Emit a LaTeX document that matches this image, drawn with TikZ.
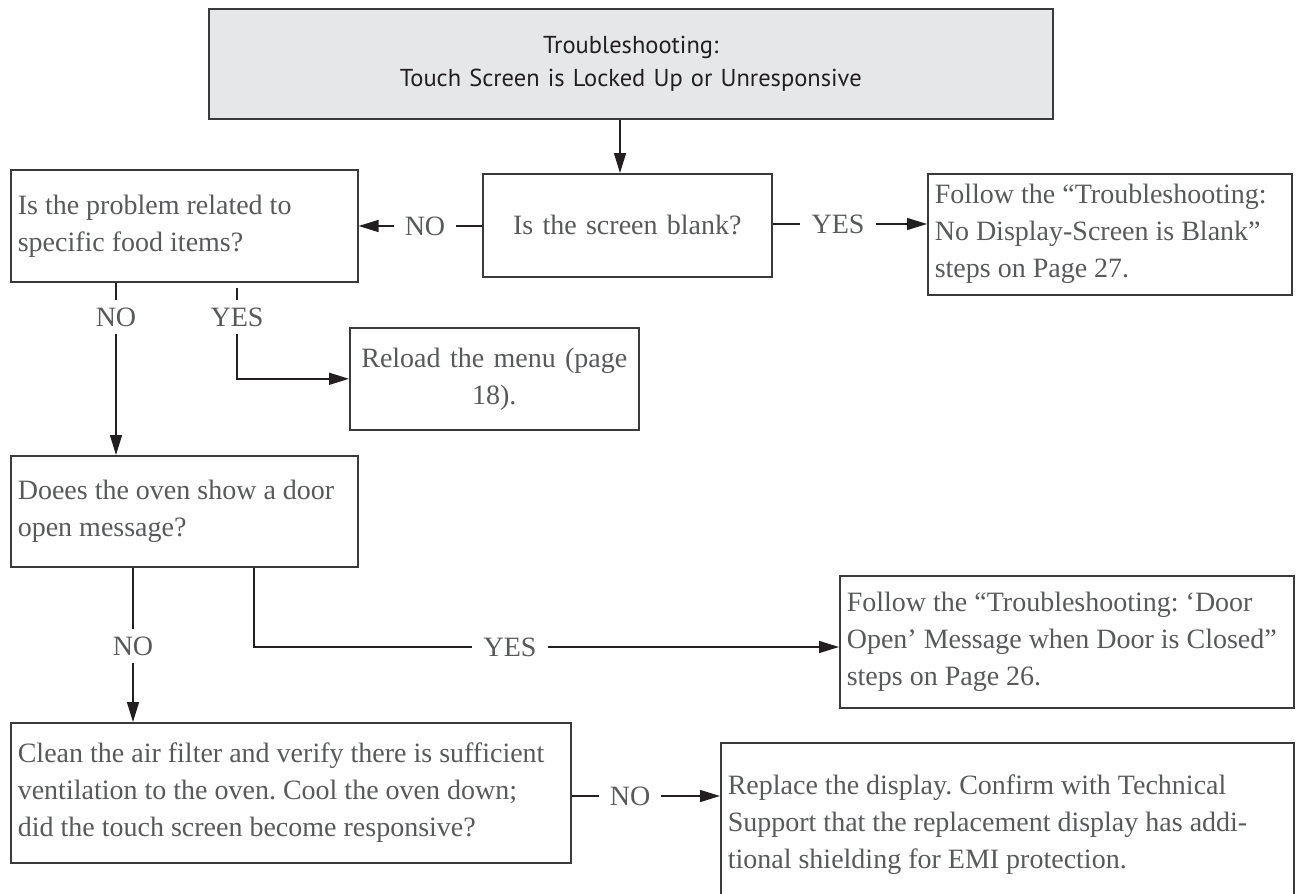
\documentclass[tikz,border=0pt]{standalone}
\usepackage{fontspec}
\setmainfont{Liberation Serif}
\newfontfamily\titlesans{PT Sans}
\usetikzlibrary{arrows.meta}
\definecolor{txt}{HTML}{58595B}
\definecolor{ln}{HTML}{231F20}
\definecolor{bdr}{HTML}{3A3A3A}
\definecolor{tfill}{HTML}{E6E7E8}
\newcommand\bodyfont{\fontsize{28}{37}\selectfont\frenchspacing}
\begin{document}
\begin{tikzpicture}[x=1pt,y=-1pt,
  box/.style={draw=bdr, line width=1.6pt, text=txt, font=\bodyfont,
    inner xsep=7pt, inner ysep=0pt, anchor=north west, align=flush left},
  titlebox/.style={draw=bdr, line width=1.6pt, fill=tfill, text=ln,
    font=\titlesans\fontsize{24.5}{33}\selectfont, inner xsep=7pt, inner ysep=0pt,
    anchor=north west, align=center},
  lab/.style={font=\bodyfont, text=txt, inner xsep=11pt, inner ysep=7pt},
  conn/.style={draw=ln, line width=1.5pt},
  arr/.style={conn, -{Triangle[length=20pt,width=12pt]}}
]
\useasboundingbox (0,0) rectangle (1296,894);

% boxes
\node[titlebox, minimum width=844pt, text width=830pt, minimum height=110pt] (title) at (208,8)
  {Troubleshooting:\\Touch Screen is Locked Up or Unresponsive};
\node[box, align=center, minimum width=289pt, text width=275pt, minimum height=103pt] (blank) at (482,173)
  {Is the screen blank?};
\node[box, minimum width=364pt, text width=350pt, minimum height=121pt] (disp) at (927,173)
  {Follow the “Troubleshooting:\\No Display-Screen is Blank”\\steps on Page 27.};
\node[box, minimum width=347pt, text width=333pt, minimum height=112pt] (food) at (10,169)
  {Is the problem related to\\specific food items?};
\node[box, align=center, minimum width=289pt, text width=275pt, minimum height=102pt] (reload) at (349,327)
  {Reload the menu (page\\18).};
\node[box, minimum width=347pt, text width=333pt, minimum height=111pt] (doees) at (10,455)
  {Doees the oven show a door\\open message?};
\node[box, minimum width=454pt, text width=440pt, minimum height=132pt] (door) at (839,575)
  {Follow the “Troubleshooting: ‘Door\\Open’ Message when Door is Closed”\\steps on Page 26.};
\node[box, minimum width=560pt, text width=546pt, minimum height=140pt] (clean) at (10,722)
  {Clean the air filter and verify there is sufficient\\ventilation to the oven. Cool the oven down;\\did the touch screen become responsive?};
\node[box, minimum width=573pt, text width=559pt, minimum height=163pt] (replace) at (720,742)
  {Replace the display. Confirm with Technical\\Support that the replacement display has addi-\\tional shielding for EMI protection.};

% labels
\node[lab] (noA) at (425,226) {NO};
\node[lab] (yesA) at (838,224) {YES};
\node[lab] (noB) at (116,317) {NO};
\node[lab] (yesB) at (237,317) {YES};
\node[lab] (noC) at (133,646) {NO};
\node[lab] (yesC) at (510,647) {YES};
\node[lab] (noD) at (630,796) {NO};
\coordinate (t1) at (620,0);
\coordinate (c2) at (254,0);

% connectors
\draw[arr] (title.south -| t1) -- (blank.north -| t1);
\draw[conn] (blank.west |- noA) -- (noA.east);
\draw[arr] (noA.west) -- (food.east |- noA);
\draw[conn] (blank.east |- yesA) -- (yesA.west);
\draw[arr] (yesA.east) -- (disp.west |- yesA);
\draw[conn] (food.south -| noB) -- (noB.north);
\draw[arr] (noB.south) -- (doees.north -| noB);
\draw[conn] ([yshift=-5pt]food.south -| yesB) -- (yesB.north);
\draw[arr] (yesB.south) |- (reload.west);
\draw[conn] (doees.south -| noC) -- (noC.north);
\draw[arr] (noC.south) -- (clean.north -| noC);
\draw[conn] (doees.south -| c2) |- (yesC.west);
\draw[arr] (yesC.east) -- (door.west |- yesC);
\draw[conn] (clean.east |- noD) -- (noD.west);
\draw[arr] (noD.east) -- (replace.west |- noD);
\end{tikzpicture}
\end{document}
